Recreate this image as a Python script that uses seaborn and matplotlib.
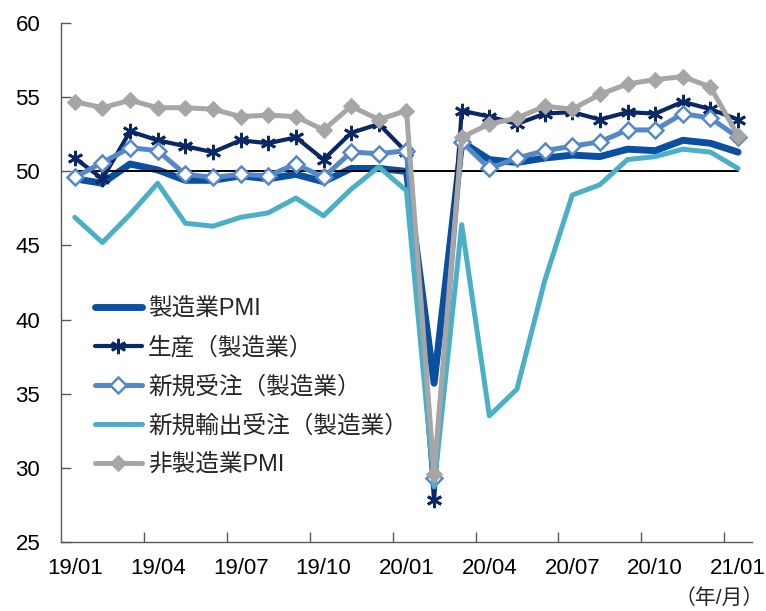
import numpy as np
import pandas as pd
import matplotlib
matplotlib.use("Agg")
import matplotlib.pyplot as plt
import seaborn as sns

# Monthly series, 2019/01 - 2021/01
months = [f"{y:02d}/{m:02d}" for y in (19, 20) for m in range(1, 13)] + ["21/01"]
mfg_pmi = [49.5, 49.2, 50.5, 50.1, 49.4, 49.4, 49.7, 49.5, 49.8, 49.3, 50.2, 50.2,
           50.0, 35.7, 52.0, 50.8, 50.6, 50.9, 51.1, 51.0, 51.5, 51.4, 52.1, 51.9, 51.3]
production = [50.9, 49.5, 52.7, 52.1, 51.7, 51.3, 52.1, 51.9, 52.3, 50.8, 52.6, 53.2,
              51.3, 27.8, 54.1, 53.7, 53.2, 53.9, 54.0, 53.5, 54.0, 53.9, 54.7, 54.2, 53.5]
new_orders = [49.6, 50.6, 51.6, 51.4, 49.8, 49.6, 49.8, 49.7, 50.5, 49.6, 51.3, 51.2,
              51.4, 29.3, 52.0, 50.2, 50.9, 51.4, 51.7, 52.0, 52.8, 52.8, 53.9, 53.6, 52.3]
export_orders = [46.9, 45.2, 47.1, 49.2, 46.5, 46.3, 46.9, 47.2, 48.2, 47.0, 48.8, 50.3,
                 48.7, 28.7, 46.4, 33.5, 35.3, 42.6, 48.4, 49.1, 50.8, 51.0, 51.5, 51.3, 50.2]
non_mfg_pmi = [54.7, 54.3, 54.8, 54.3, 54.3, 54.2, 53.7, 53.8, 53.7, 52.8, 54.4, 53.5,
               54.1, 29.6, 52.3, 53.2, 53.6, 54.4, 54.2, 55.2, 55.9, 56.2, 56.4, 55.7, 52.4]
threshold = [50.0] * len(months)

labels = ["製造業PMI", "生産（製造業）", "新規受注（製造業）", "新規輸出受注（製造業）", "非製造業PMI"]
tick_labels = months[::3]

sns.set_theme(style="white")
plt.rcParams["font.family"] = ["Liberation Sans", "Noto Sans CJK JP"]

df = pd.DataFrame({
    "pos": np.arange(len(months)),
    "mfg": mfg_pmi, "prod": production, "orders": new_orders,
    "export": export_orders, "nonmfg": non_mfg_pmi, "line50": threshold,
})

fig = plt.figure(figsize=(7.66, 6.11), dpi=100)
ax = fig.add_axes([0.0796, 0.1134, 0.902, 0.8485])

sns.lineplot(data=df, x="pos", y="mfg", ax=ax, color="#0B50A0", lw=5.0,
             label=labels[0], zorder=2)
sns.lineplot(data=df, x="pos", y="line50", ax=ax, color="black", lw=1.4,
             label="_nolegend_", zorder=3)
sns.lineplot(data=df, x="pos", y="prod", ax=ax, color="#0A2766", lw=3.0,
             marker=(6, 2, 0), markersize=11, markeredgewidth=2.0,
             markeredgecolor="#0A2766", label=labels[1], zorder=4)
sns.lineplot(data=df, x="pos", y="orders", ax=ax, color="#5588C6", lw=3.6,
             marker="D", markersize=8.5, markerfacecolor="white",
             markeredgecolor="#5588C6", markeredgewidth=1.8,
             label=labels[2], zorder=5)
sns.lineplot(data=df, x="pos", y="export", ax=ax, color="#4BAFC8", lw=3.6,
             label=labels[3], zorder=6)
sns.lineplot(data=df, x="pos", y="nonmfg", ax=ax, color="#A6A6A6", lw=3.6,
             marker="D", markersize=8, markerfacecolor="#A6A6A6",
             markeredgecolor="#A6A6A6", label=labels[4], zorder=7)

ax.set_xlim(-0.5, len(months) - 0.5)
ax.set_ylim(25, 60)
ax.set_yticks(np.arange(25, 61, 5))
ax.set_xlabel("")
ax.set_ylabel("")

# tick marks on category boundaries, labels on every third month
ax.set_xticks(np.arange(2.5, len(months) - 0.5, 3))
ax.set_xticklabels([])
ax.set_xticks(np.arange(0, len(months), 3), minor=True)
ax.set_xticklabels(tick_labels, minor=True)
ax.tick_params(axis="x", which="major", direction="in", length=7, width=1,
               color="#595959", bottom=True)
ax.tick_params(axis="x", which="minor", length=0, pad=11.5, labelsize=16,
               labelcolor="black")
ax.tick_params(axis="y", direction="in", length=7, width=1, color="#595959",
               left=True, pad=15, labelsize=16, labelcolor="black")

for side in ("top", "right"):
    ax.spines[side].set_visible(False)
for side in ("left", "bottom"):
    ax.spines[side].set_color("#595959")
    ax.spines[side].set_linewidth(1.0)

leg = ax.legend(loc="upper left", bbox_to_anchor=(0.049, 0.471), frameon=False,
                fontsize=17, handlelength=2.0, handletextpad=0.25,
                labelspacing=0.7, borderaxespad=0, borderpad=0)

fig.text(719 / 766, 1 - 598 / 611, "（年/月）", ha="center", va="center",
         fontsize=15)

fig.savefig("out.png", dpi=100)
